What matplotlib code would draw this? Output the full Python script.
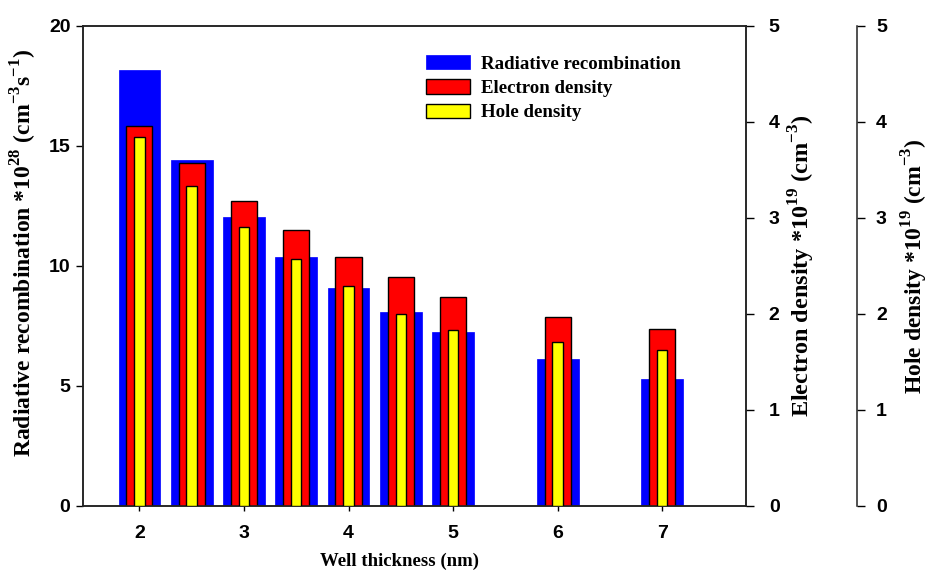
import matplotlib.pyplot as plt
import numpy as np

# well thickness (nm) and the three quantities
thickness = [2, 2.5, 3, 3.5, 4, 4.5, 5, 6, 7]
radiative = [18.15, 14.43, 12.03, 10.35, 9.07, 8.07, 7.25, 6.1, 5.27]     # *1e28 cm-3 s-1
electron = [3.96, 3.57, 3.18, 2.87, 2.59, 2.38, 2.18, 1.97, 1.84]         # *1e19 cm-3
hole = [3.84, 3.33, 2.91, 2.57, 2.29, 2.0, 1.83, 1.71, 1.62]              # *1e19 cm-3
xticks = [2, 3, 4, 5, 6, 7]

plt.rcParams['mathtext.fontset'] = 'custom'
plt.rcParams['mathtext.rm'] = 'Liberation Serif'
plt.rcParams['mathtext.bf'] = 'Liberation Serif:bold'

serif = {'family': 'Liberation Serif', 'weight': 'bold'}
sans = {'family': 'Liberation Sans', 'weight': 'bold', 'size': 14}

fig = plt.figure(figsize=(9.3, 5.7), dpi=100)
ax1 = fig.add_axes([0.0892, 0.1128, 0.7128, 0.8416])
ax2 = ax1.twinx()
ax3 = ax1.twinx()
# third axis offset to the right (must come before tick setup)
ax3.spines['right'].set_position(('axes', 1.167))
for s in ('top', 'left', 'bottom'):
    ax3.spines[s].set_visible(False)

b1 = ax1.bar(thickness, radiative, width=0.40, color='#0000ff', edgecolor='#0000ff',
             linewidth=0.5, label='Radiative recombination')
b2 = ax2.bar(thickness, electron, width=0.25, color='#ff0000', edgecolor='black',
             linewidth=1.0, label='Electron density')
b3 = ax3.bar(thickness, hole, width=0.10, color='#ffff00', edgecolor='black',
             linewidth=1.0, label='Hole density')

ax1.set_xlim(1.46, 7.80)
ax1.set_ylim(0, 20)
ax2.set_ylim(0, 5)
ax3.set_ylim(0, 5)

ax1.set_xticks(xticks)
ax1.set_xticklabels([str(t) for t in xticks], fontdict=sans)
ax1.set_yticks([0, 5, 10, 15, 20])
ax1.set_yticklabels(['0', '5', '10', '15', '20'], fontdict=sans)
for ax in (ax2, ax3):
    ax.set_yticks([0, 1, 2, 3, 4, 5])
    ax.set_yticklabels(['0', '1', '2', '3', '4', '5'], fontdict=sans)

ax1.tick_params(axis='y', direction='out', length=5, width=1, pad=4)
ax1.tick_params(axis='x', direction='out', length=3.6, width=1, pad=10.5)
ax2.tick_params(axis='y', direction='out', length=5.5, width=1, pad=11)
ax3.tick_params(axis='y', direction='out', length=5.5, width=1, pad=8.5)

for ax in (ax1, ax2, ax3):
    for s in ax.spines.values():
        s.set_linewidth(1.1)
        s.set_color('#222222')

ax1.set_xlabel('Well thickness (nm)', fontdict=serif, fontsize=13.5)
ax1.xaxis.set_label_coords(0.478, -0.098)
ax1.set_ylabel(r'Radiative recombination *10$^{\mathbf{28}}$ (cm$^{\mathbf{-3}}$s$^{\mathbf{-1}}$)',
               fontdict=serif, fontsize=17, labelpad=6)
ax1.yaxis.set_label_coords(-0.066, 0.527)
ax2.set_ylabel(r'Electron density *10$^{\mathbf{19}}$ (cm$^{\mathbf{-3}}$)',
               fontdict=serif, fontsize=17.5, labelpad=5)
ax3.set_ylabel(r'Hole density *10$^{\mathbf{19}}$ (cm$^{\mathbf{-3}}$)',
               fontdict=serif, fontsize=17, labelpad=9)

leg = ax3.legend(handles=[b1, b2, b3], loc='upper left', bbox_to_anchor=(0.517, 0.940),
                 frameon=False, prop={'family': 'Liberation Serif', 'weight': 'bold', 'size': 13.6},
                 handlelength=2.33, handleheight=0.8, labelspacing=0.35, handletextpad=0.6,
                 borderpad=0, borderaxespad=0)

fig.savefig('out.png', dpi=100)
